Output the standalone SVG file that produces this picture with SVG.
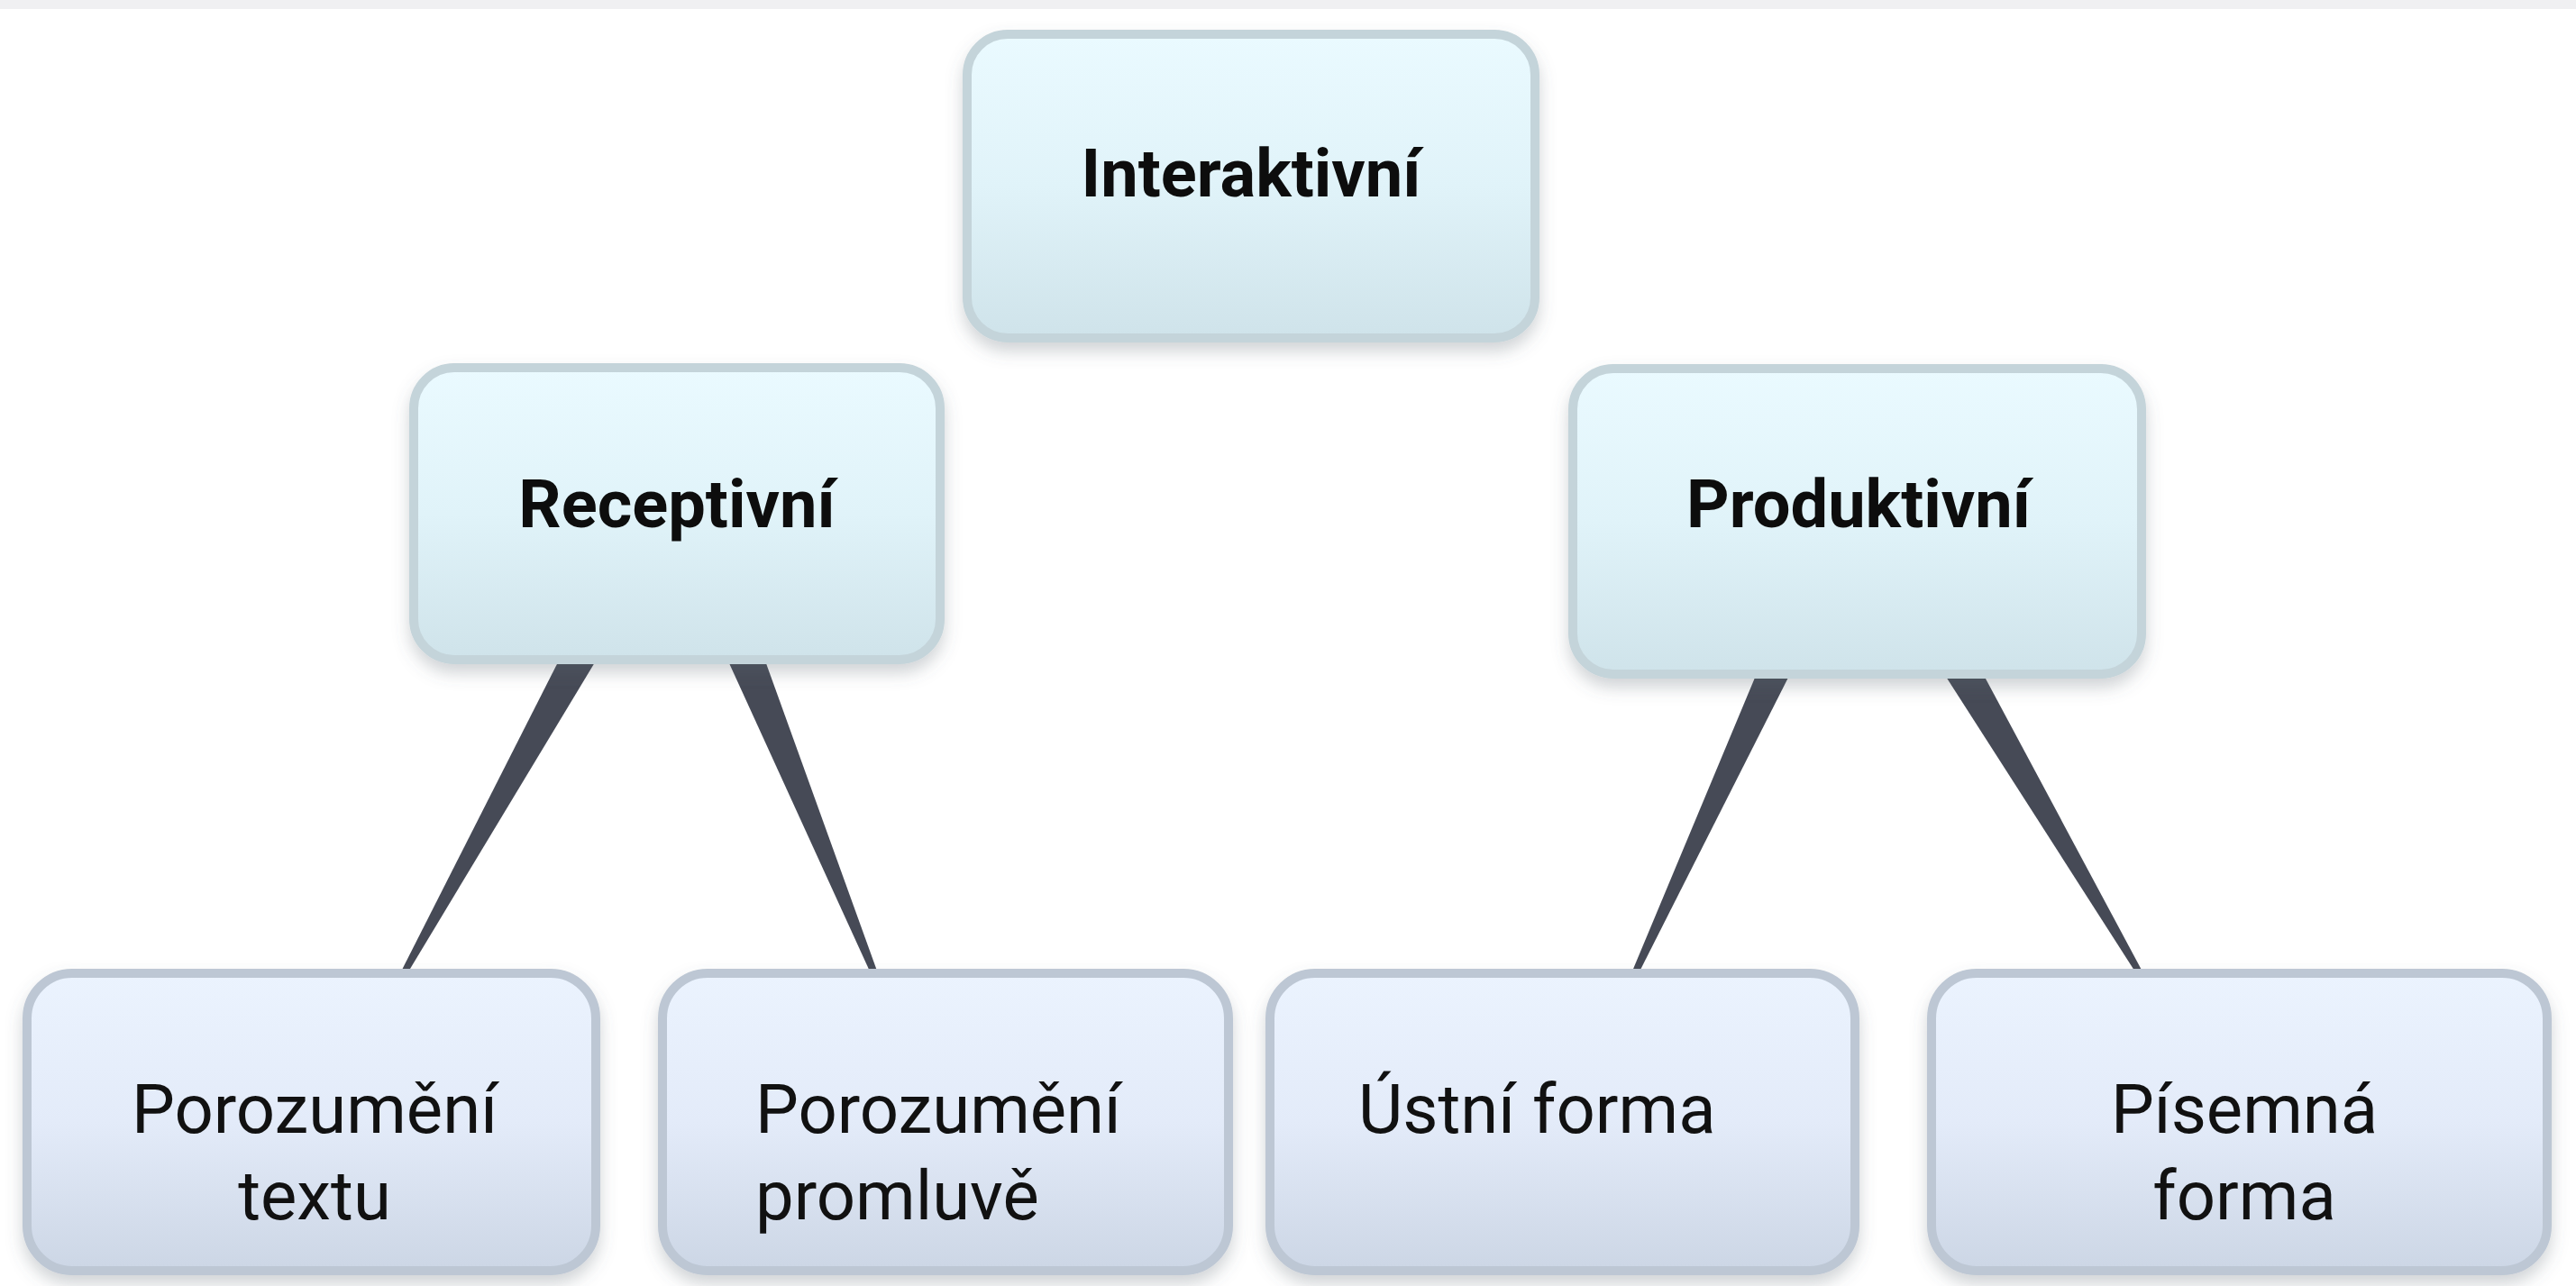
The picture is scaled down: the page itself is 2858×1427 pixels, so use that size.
<svg xmlns="http://www.w3.org/2000/svg" width="2858" height="1427" viewBox="0 0 2858 1427">
<defs>
<linearGradient id="gTop" x1="0" y1="0" x2="0" y2="1">
<stop offset="0" stop-color="#eafaff"/>
<stop offset="0.5" stop-color="#e0f3f9"/>
<stop offset="1" stop-color="#cfe3ea"/>
</linearGradient>
<linearGradient id="gBot" x1="0" y1="0" x2="0" y2="1">
<stop offset="0" stop-color="#ebf3fe"/>
<stop offset="0.5" stop-color="#e3ebf9"/>
<stop offset="1" stop-color="#ccd6e5"/>
</linearGradient>
<filter id="sh" x="-10%" y="-10%" width="120%" height="130%">
<feDropShadow dx="0" dy="10" stdDeviation="9" flood-color="#5a6470" flood-opacity="0.28"/>
</filter>
</defs>
<style>
.top{fill:url(#gTop);stroke:#c4d4da;stroke-width:10;filter:url(#sh)}
.bot{fill:url(#gBot);stroke:#bdc7d4;stroke-width:10;filter:url(#sh)}
.bold{font-family:Roboto,"Liberation Sans",sans-serif;font-weight:bold;font-size:74px;fill:#0d0d0d}
.reg{font-family:Roboto,"Liberation Sans",sans-serif;font-weight:normal;font-size:76px;fill:#111}
.wedge{fill:#464a56}
</style>
<rect x="0" y="0" width="2858" height="1427" fill="#ffffff"/>
<rect x="0" y="0" width="2858" height="10" fill="#f0f0f2"/>
<g id="connectors">
<polygon class="wedge" points="624,725 666,725 452,1080 444,1080"/>
<polygon class="wedge" points="804,725 846,725 974,1080 966,1080"/>
<polygon class="wedge" points="1952,740 1990,740 1818,1080 1810,1080"/>
<polygon class="wedge" points="2152,740 2196,740 2378,1080 2370,1080"/>
</g>
<g id="interaktivni">
<rect class="top" x="1073" y="38" width="630" height="337" rx="45"/>
<text class="bold" x="1388" y="218" text-anchor="middle">Interaktivní</text>
</g>
<g id="receptivni">
<rect class="top" x="459" y="408" width="584" height="324" rx="45"/>
<text class="bold" x="751" y="585" text-anchor="middle">Receptivní</text>
</g>
<g id="produktivni">
<rect class="top" x="1745" y="409" width="631" height="339" rx="45"/>
<text class="bold" x="2062" y="585" text-anchor="middle">Produktivní</text>
</g>
<g id="porozumeni-textu">
<rect class="bot" x="30" y="1080" width="631" height="330" rx="50"/>
<text class="reg" x="349" y="1257" text-anchor="middle">Porozumění</text>
<text class="reg" x="349" y="1353" text-anchor="middle">textu</text>
</g>
<g id="porozumeni-promluve">
<rect class="bot" x="735" y="1080" width="628" height="330" rx="50"/>
<text class="reg" x="838" y="1257">Porozumění</text>
<text class="reg" x="838" y="1353">promluvě</text>
</g>
<g id="ustni-forma">
<rect class="bot" x="1409" y="1080" width="649" height="330" rx="50"/>
<text class="reg" x="1507" y="1257">Ústní forma</text>
</g>
<g id="pisemna-forma">
<rect class="bot" x="2143" y="1080" width="683" height="330" rx="50"/>
<text class="reg" x="2490" y="1257" text-anchor="middle">Písemná</text>
<text class="reg" x="2490" y="1353" text-anchor="middle">forma</text>
</g>
</svg>
